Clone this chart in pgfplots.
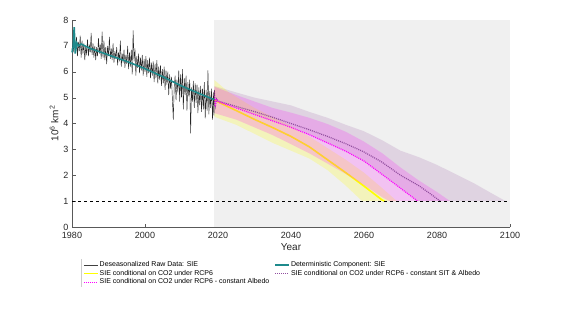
\documentclass[border=0pt]{standalone}
\usepackage{pgfplots}
\pgfplotsset{compat=1.18}
\usepackage{fontspec}
\setmainfont{Liberation Sans}
\definecolor{bgc}{RGB}{240,240,240}
\definecolor{tealc}{RGB}{30,138,140}
\definecolor{purplec}{RGB}{126,47,142}
\definecolor{yel}{RGB}{255,255,0}
\definecolor{mag}{RGB}{255,0,255}
\begin{document}
\begin{tikzpicture}
\path[use as bounding box] (-72pt,-89pt) rectangle (489pt,227pt);
\begin{axis}[
  at={(0pt,0pt)}, anchor=south west,
  scale only axis, width=438pt, height=207pt,
  xmin=1980, xmax=2100, ymin=0, ymax=8,
  axis lines=left, axis line style={-, black!65},
  xtick={1980,2000,2020,2040,2060,2080,2100},
  ytick={0,1,2,3,4,5,6,7,8},
  tick align=inside, major tick length=3.5pt,
  tick style={black!65},
  /pgf/number format/assume math mode=true,
  xticklabel style={/pgf/number format/1000 sep={}, yshift=-2pt},
  tick label style={font=\fontsize{9}{10}\selectfont, text=black!85},
  xlabel={Year}, ylabel={10\textsuperscript{6} km\textsuperscript{2}},
  label style={font=\fontsize{10}{11}\selectfont, text=black!85},
  xlabel style={at={(axis description cs:0.5,-0.0966)}, anchor=center},
  ylabel style={at={(axis description cs:-0.041,0.5)}, anchor=center},
  clip=false,
  legend columns=2,
  legend cell align=left,
  legend image code/.code={\draw[#1] (0pt,0pt) -- (14pt,0pt);},
  legend style={at={(axis description cs:0.025,-0.162)}, anchor=north west,
    draw=none, fill=none, font=\fontsize{7}{8}\selectfont, row sep=0pt,
    inner sep=0pt, nodes={inner sep=1pt},
    /tikz/every even column/.append style={column sep=4pt}},
]
% shaded background for projection period
\addplot[fill=bgc, draw=none, forget plot] coordinates {(2019,0)(2100,0)(2100,8)(2019,8)};

% lavender band (constant SIT & Albedo)
\addplot[fill=purplec, fill opacity=0.15, draw=none, forget plot] coordinates {
(2019,5.45)(2025,5.2)(2030,5.0)(2035,4.85)(2040,4.7)(2045,4.45)(2050,4.22)(2055,3.95)(2060,3.7)(2065,3.35)(2070,2.95)(2075,2.7)(2080,2.4)(2085,2.05)(2090,1.7)(2095,1.3)(2098.8,1.0)
(2074.7,1.0)(2070,1.5)(2065,2.03)(2060,2.55)(2055,2.93)(2050,3.25)(2045,3.57)(2040,3.85)(2035,4.1)(2030,4.35)(2025,4.6)(2019,4.9)};

% yellow band (RCP6)
\addplot[fill=yel, fill opacity=0.22, draw=none, forget plot] coordinates {
(2019,5.68)(2023,5.2)(2030,4.6)(2035,4.25)(2040,3.9)(2045,3.5)(2050,3.05)(2055,2.6)(2060,2.1)(2065,1.5)(2069,1.0)
(2059.5,1.0)(2055,1.6)(2050,2.2)(2045,2.65)(2040,2.95)(2035,3.25)(2030,3.6)(2025,3.95)(2019,4.26)};

% yellow line
\addplot[yel, line width=1.6pt, forget plot] coordinates {
(2019,4.9)(2025,4.5)(2030,4.16)(2035,3.84)(2040,3.5)(2045,3.1)(2050,2.6)(2055,2.1)(2060,1.58)(2065,1.04)(2065.6,1.0)};

% magenta band (constant Albedo)
\addplot[fill=mag, fill opacity=0.19, draw=none, forget plot] coordinates {
(2019,5.42)(2025,5.1)(2030,4.85)(2035,4.6)(2040,4.42)(2045,4.22)(2050,3.98)(2055,3.68)(2060,3.3)(2065,2.85)(2070,2.3)(2075,1.8)(2080,1.35)(2083.6,1.0)
(2067,1.0)(2065,1.15)(2060,1.62)(2055,2.05)(2050,2.45)(2045,2.85)(2040,3.2)(2035,3.55)(2030,3.85)(2025,4.15)(2019,4.4)};

% purple dotted
\addplot[purplec!85, line width=1.2pt, dash pattern=on 1pt off 1pt, forget plot] coordinates {
(2019,5.1)(2019.3,4.7)(2019.6,4.95)(2020,4.87)(2025,4.66)(2030,4.46)(2035,4.24)(2040,4.0)(2045,3.76)(2050,3.5)(2055,3.22)(2060,2.9)(2065,2.5)(2070,2.0)(2075,1.6)(2078,1.3)(2080.9,1.0)};

% magenta dotted
\addplot[mag, line width=1.2pt, dash pattern=on 1pt off 1pt, forget plot] coordinates {
(2019,5.25)(2019.2,4.65)(2019.5,4.95)(2020,4.85)(2025,4.6)(2030,4.35)(2035,4.1)(2040,3.85)(2045,3.57)(2050,3.25)(2055,2.93)(2060,2.55)(2065,2.03)(2070,1.5)(2074.7,1.0)};

% raw data
\addplot[black!85, line width=0.45pt, forget plot] coordinates {
(1980.00,6.85)(1980.25,7.10)(1980.50,6.75)(1980.75,7.20)
(1981.00,6.90)(1981.25,7.35)(1981.50,6.60)(1981.75,7.15)
(1982.00,6.80)(1982.25,7.40)(1982.50,6.55)(1982.75,7.20)
(1983.00,6.70)(1983.25,7.10)(1983.50,6.45)(1983.75,6.95)
(1984.00,6.70)(1984.25,7.25)(1984.50,6.60)(1984.75,7.05)
(1985.00,6.75)(1985.25,7.50)(1985.50,6.65)(1985.75,7.10)
(1986.00,6.55)(1986.25,7.00)(1986.50,6.45)(1986.75,6.95)
(1987.00,6.60)(1987.25,7.30)(1987.50,6.70)(1987.75,7.05)
(1988.00,6.50)(1988.25,7.55)(1988.50,6.55)(1988.75,7.20)
(1989.00,6.45)(1989.25,6.95)(1989.50,6.30)(1989.75,7.00)
(1990.00,6.60)(1990.25,7.35)(1990.50,6.50)(1990.75,6.90)
(1991.00,6.45)(1991.25,7.10)(1991.50,6.35)(1991.75,6.80)
(1992.00,6.50)(1992.25,6.95)(1992.50,6.25)(1992.75,6.75)
(1993.00,6.40)(1993.25,7.20)(1993.50,6.20)(1993.75,6.70)
(1994.00,6.35)(1994.25,6.85)(1994.50,6.15)(1994.75,6.65)
(1995.00,6.30)(1995.25,7.00)(1995.50,6.10)(1995.75,6.75)
(1996.00,6.20)(1996.25,6.85)(1996.50,5.90)(1996.75,7.60)
(1997.00,6.40)(1997.25,6.90)(1997.50,5.85)(1997.75,6.60)
(1998.00,6.15)(1998.25,6.70)(1998.50,5.95)(1998.75,6.55)
(1999.00,6.05)(1999.25,6.65)(1999.50,5.85)(1999.75,6.50)
(2000.00,6.00)(2000.25,6.60)(2000.50,5.80)(2000.75,6.45)
(2001.00,5.95)(2001.25,6.55)(2001.50,5.75)(2001.75,6.35)
(2002.00,5.85)(2002.25,6.40)(2002.50,5.60)(2002.75,6.30)
(2003.00,5.75)(2003.25,6.45)(2003.50,5.55)(2003.75,6.20)
(2004.00,5.70)(2004.25,6.25)(2004.50,5.45)(2004.75,6.10)
(2005.00,5.55)(2005.25,6.20)(2005.50,5.30)(2005.75,6.05)
(2006.00,5.50)(2006.25,6.00)(2006.50,5.10)(2006.75,5.90)
(2007.00,5.35)(2007.25,5.80)(2007.50,4.95)(2007.75,4.15)
(2008.00,5.40)(2008.25,5.85)(2008.50,4.90)(2008.75,5.70)
(2009.00,5.20)(2009.25,6.05)(2009.50,4.85)(2009.75,5.90)
(2010.00,5.00)(2010.25,6.10)(2010.50,4.55)(2010.75,5.75)
(2011.00,5.10)(2011.25,5.85)(2011.50,4.50)(2011.75,5.60)
(2012.00,5.05)(2012.25,5.70)(2012.50,3.62)(2012.75,5.40)
(2013.00,4.85)(2013.25,5.65)(2013.50,4.60)(2013.75,5.55)
(2014.00,4.80)(2014.25,5.50)(2014.50,4.40)(2014.75,5.40)
(2015.00,4.70)(2015.25,5.45)(2015.50,4.45)(2015.75,5.35)
(2016.00,4.55)(2016.25,5.60)(2016.50,4.20)(2016.75,5.30)
(2017.00,4.50)(2017.25,6.05)(2017.50,4.35)(2017.75,5.25)
(2018.00,4.60)(2018.25,5.35)(2018.50,4.15)(2018.75,5.20)
(2018.90,4.30)(2019.00,5.30)};

% deterministic component
\addplot[tealc, line width=1.6pt, forget plot] coordinates {
(1980,6.75)(1980.3,6.95)(1980.6,7.72)(1980.9,6.7)(1981.3,7.12)(1981.8,7.0)(1982.5,7.07)(1985,6.9)(1990,6.65)(1995,6.4)(2000,6.12)(2005,5.8)(2010,5.45)(2015,5.15)(2019,4.92)};

% threshold
\addplot[black, dashed, line width=0.6pt, forget plot] coordinates {(1980,1)(2100,1)};

\addlegendimage{black!75, line width=0.6pt}
\addlegendentry{Deseasonalized Raw Data: SIE}
\addlegendimage{tealc, line width=1.6pt}
\addlegendentry{Deterministic Component: SIE}
\addlegendimage{yel, line width=1.6pt}
\addlegendentry{SIE conditional on CO2 under RCP6}
\addlegendimage{purplec!85, line width=1.2pt, dash pattern=on 1pt off 1pt}
\addlegendentry{SIE conditional on CO2 under RCP6 - constant SIT \& Albedo}
\addlegendimage{mag, line width=1.2pt, dash pattern=on 1pt off 1pt}
\addlegendentry{SIE conditional on CO2 under RCP6 - constant Albedo}
\end{axis}
\draw[black!20, line width=0.5pt] (9pt,-32pt) -- (9pt,-60pt);
\end{tikzpicture}
\end{document}
